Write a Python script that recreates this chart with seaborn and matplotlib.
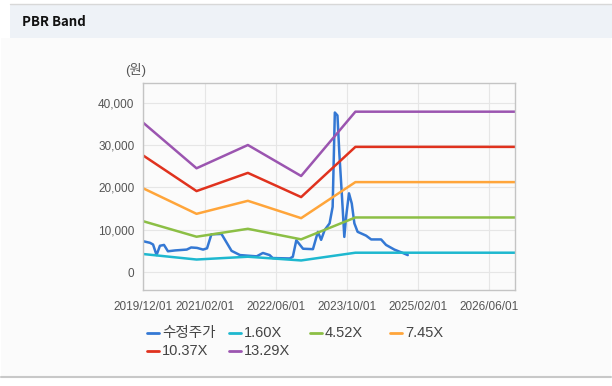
import numpy as np
import pandas as pd
import seaborn as sns
import matplotlib.pyplot as plt
from matplotlib.lines import Line2D
from matplotlib.patches import Rectangle
from matplotlib.ticker import FuncFormatter

# ---------------- data ----------------
price_dates = [
    "2019-12-01", "2020-01-20", "2020-02-10", "2020-03-05", "2020-03-28", "2020-04-25",
    "2020-05-22", "2020-07-10", "2020-09-28", "2020-10-28", "2020-12-07", "2021-01-18",
    "2021-02-14", "2021-03-16", "2021-05-24", "2021-08-01", "2021-09-28", "2022-01-20",
    "2022-03-04", "2022-04-19", "2022-05-10", "2022-09-04", "2022-09-25", "2022-10-19",
    "2022-12-04", "2023-02-10", "2023-03-16", "2023-04-07", "2023-05-01", "2023-06-04",
    "2023-06-25", "2023-07-10", "2023-07-28", "2023-08-10", "2023-08-28", "2023-09-13",
    "2023-09-25", "2023-10-15", "2023-11-03", "2023-11-21", "2023-12-13", "2024-02-09",
    "2024-03-15", "2024-05-22", "2024-06-25", "2024-08-21", "2024-10-18", "2024-11-21",
]
price = [
    7300, 6900, 6500, 4000, 6200, 6400,
    4900, 5100, 5300, 5800, 5700, 5300,
    5600, 8900, 9000, 5000, 4000, 3700,
    4500, 4000, 3300, 3200, 3600, 7500,
    5500, 5400, 9500, 7600, 9900, 11500,
    15400, 37700, 37000, 28000, 17800, 8300,
    13000, 18600, 16200, 11500, 9500, 8600,
    7700, 7700, 6400, 5300, 4500, 4000,
]

band_dates = ["2019-12-01", "2020-12-04", "2021-11-21", "2022-11-21", "2023-11-28", "2026-11-26"]
band_160 = [4260, 2950, 3610, 2730, 4560, 4560]
band_452 = [12040, 8340, 10210, 7720, 12890, 12890]
band_745 = [19840, 13750, 16830, 12730, 21250, 21250]
band_1037 = [27620, 19130, 23430, 17710, 29580, 29580]
band_1329 = [35390, 24520, 30020, 22700, 37900, 37900]

series_names = ["수정주가", "1.60X", "4.52X", "7.45X", "10.37X", "13.29X"]
colors = ["#3478d4", "#1eb8cf", "#8cbf45", "#ffa53a", "#e0321e", "#9b55b0"]

tick_dates = ["2019-12-01", "2021-02-01", "2022-06-01", "2023-10-01", "2025-02-01", "2026-06-01"]
tick_labels = ["2019/12/01", "2021/02/01", "2022/06/01", "2023/10/01", "2025/02/01", "2026/06/01"]

# ---------------- figure ----------------
sns.set_style("white")
plt.rcParams["font.family"] = ["Liberation Sans", "Noto Sans CJK KR"]

fig = plt.figure(figsize=(6.12, 3.86), dpi=100)
W, H = 612, 386

def fx(px):
    return px / W

def fy(py):
    return 1 - py / H

# panel backgrounds (behind the axes)
fig.patches.append(Rectangle((fx(1), fy(376)), fx(610), 338 / H, transform=fig.transFigure,
                             facecolor="#fbfbfb", edgecolor="none", zorder=-10))
fig.patches.append(Rectangle((fx(10), fy(38)), fx(602), 34 / H, transform=fig.transFigure,
                             facecolor="#eef2f7", edgecolor="none", zorder=-10))
fig.add_artist(Line2D([fx(10), fx(612)], [fy(4), fy(4)], color="#d8d8d8", lw=1))
fig.add_artist(Line2D([fx(1), fx(611)], [fy(376.5), fy(376.5)], color="#c8c8c8", lw=1.5))
fig.text(fx(22), fy(22), "PBR Band", fontsize=9.5, fontweight="bold", color="#111111",
         va="center", ha="left", family=["Noto Sans CJK KR", "DejaVu Sans"])

ax = fig.add_axes([fx(142.7), fy(290), fx(515 - 142.7), (290 - 83) / H])
ax.set_facecolor("#fbfbfb")

price_df = pd.DataFrame({"date": pd.to_datetime(price_dates), "value": price})
sns.lineplot(data=price_df, x="date", y="value", ax=ax, color=colors[0], lw=1.8)

bands = [band_160, band_452, band_745, band_1037, band_1329]
bd = pd.to_datetime(band_dates)
for vals, c in zip(bands, colors[1:]):
    df = pd.DataFrame({"date": bd, "value": vals})
    sns.lineplot(data=df, x="date", y="value", ax=ax, color=c, lw=1.8)

ax.set_xlim(pd.Timestamp("2019-12-01"), pd.Timestamp("2026-11-26"))
ax.set_ylim(-4255, 44680)
ax.set_xticks(pd.to_datetime(tick_dates))
ax.set_xticklabels(tick_labels)
ax.set_yticks([0, 10000, 20000, 30000, 40000])
ax.yaxis.set_major_formatter(FuncFormatter(lambda v, p: f"{int(v):,}"))
ax.set_xlabel("")
ax.set_ylabel("")
ax.grid(True, color="#e6e6e6", lw=0.8)
ax.set_axisbelow(True)
for s in ax.spines.values():
    s.set_color("#c4c4c4")
    s.set_linewidth(1)
ax.tick_params(axis="x", length=5, width=0.8, color="#c4c4c4", labelsize=8.5, labelcolor="#555555", pad=3)
ax.tick_params(axis="y", length=4, width=0.8, color="#c4c4c4", labelsize=8.5, labelcolor="#555555", pad=2)

fig.text(fx(136), fy(70), "(원)", fontsize=9.5, color="#555555", ha="center", va="center")

# legend, laid out like the original (fixed item width)
item_x = [147, 229, 310, 390]
rows_y = [333, 351]
for i, (name, c) in enumerate(zip(series_names, colors)):
    r, col = divmod(i, 4)
    x0, y0 = item_x[col], rows_y[r]
    fig.add_artist(Line2D([fx(x0), fx(x0 + 12)], [fy(y0), fy(y0)], color=c, lw=2))
    fig.text(fx(x0 + 15), fy(y0), name, fontsize=10.5, color="#444444", ha="left", va="center")

fig.savefig("out.png", dpi=100)
